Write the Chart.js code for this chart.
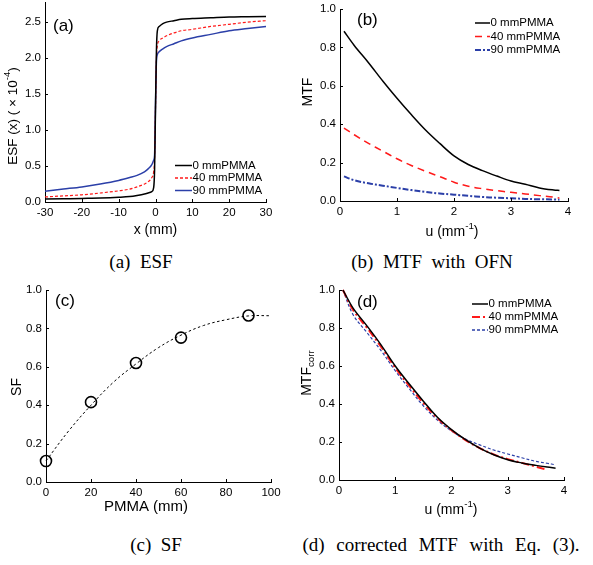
<!DOCTYPE html>
<html lang="en">
<head>
<meta charset="UTF-8">
<title>ESF / MTF / SF</title>
<style>
  body { margin: 0; background: #fff; }
  .page { position: relative; width: 593px; height: 565px; background: #fff; overflow: hidden; }
  .panel { position: absolute; }
  .cap {
    position: absolute;
    font-family: "Liberation Serif", "Times New Roman", serif;
    font-size: 19px;
    color: #000;
    white-space: pre;
    transform: translate(-50%, -50%);
  }
</style>
</head>
<body>
<div class="page">
  <canvas id="cA" class="panel" style="left:0;top:0" width="296" height="240"></canvas>
  <canvas id="cB" class="panel" style="left:296px;top:0" width="297" height="240"></canvas>
  <canvas id="cC" class="panel" style="left:0;top:280px" width="296" height="240"></canvas>
  <canvas id="cD" class="panel" style="left:296px;top:280px" width="297" height="240"></canvas>
  <div class="cap" style="left:141px;top:262px">(a)  ESF</div>
  <div class="cap" style="left:432px;top:262px">(b)  MTF  with  OFN</div>
  <div class="cap" style="left:156px;top:545px">(c)  SF</div>
  <div class="cap" style="left:441px;top:545px;word-spacing:7px">(d) corrected MTF with Eq. (3).</div>
</div>
<script src="https://cdn.jsdelivr.net/npm/chart.js"></script>
<script>
// (a) ESF, x in mm, values x 10^-4
const esfX  = [-30, -25, -20, -15, -10, -7, -5, -3, -2, -1, -0.5, -0.25, 0, 0.25, 0.5, 1, 2, 3, 5, 7, 10, 15, 20, 25, 30];
const esf0  = [0.04, 0.045, 0.05, 0.055, 0.065, 0.075, 0.09, 0.11, 0.125, 0.145, 0.2, 0.45, 1.3, 2.1, 2.38, 2.44, 2.48, 2.5, 2.52, 2.54, 2.55, 2.56, 2.57, 2.575, 2.58];
const esf40 = [0.07, 0.085, 0.1, 0.125, 0.155, 0.18, 0.21, 0.25, 0.28, 0.34, 0.42, 0.6, 1.3, 2.0, 2.17, 2.24, 2.28, 2.31, 2.35, 2.38, 2.4, 2.44, 2.47, 2.5, 2.52];
const esf90 = [0.15, 0.18, 0.21, 0.25, 0.3, 0.34, 0.37, 0.42, 0.46, 0.52, 0.58, 0.65, 1.35, 1.95, 2.05, 2.09, 2.13, 2.16, 2.2, 2.24, 2.28, 2.33, 2.38, 2.41, 2.44];

// (b) MTF with OFN
const mtfU  = [0.07, 0.25, 0.5, 0.75, 1, 1.25, 1.5, 1.75, 2, 2.25, 2.5, 2.75, 3, 3.25, 3.5, 3.75, 3.85];
const mtf0  = [0.884, 0.81, 0.72, 0.625, 0.535, 0.45, 0.37, 0.3, 0.235, 0.19, 0.158, 0.13, 0.104, 0.087, 0.068, 0.057, 0.055];
const mtf40 = [0.38, 0.345, 0.3, 0.26, 0.22, 0.185, 0.155, 0.127, 0.098, 0.077, 0.064, 0.054, 0.045, 0.037, 0.028, 0.02, 0.015];
const mtf90 = [0.128, 0.108, 0.092, 0.08, 0.068, 0.057, 0.047, 0.039, 0.033, 0.027, 0.021, 0.017, 0.014, 0.011, 0.009, 0.008, 0.007];

// (c) SF vs PMMA thickness
const sfPmma = [0, 20, 40, 60, 90];
const sfVal  = [0.109, 0.416, 0.62, 0.752, 0.867];
const sfFitX = [0, 10, 20, 30, 40, 50, 60, 70, 80, 90, 100];
const sfFitY = [0.11, 0.265, 0.4, 0.52, 0.615, 0.7, 0.765, 0.815, 0.845, 0.865, 0.866];

// (d) corrected MTF
const corrU  = [0.07, 0.25, 0.5, 0.75, 1, 1.25, 1.5, 1.75, 2, 2.25, 2.5, 2.75, 3, 3.25, 3.5, 3.7, 3.85];
const corr0  = [1.0, 0.905, 0.81, 0.71, 0.6, 0.505, 0.415, 0.33, 0.265, 0.212, 0.168, 0.133, 0.107, 0.09, 0.077, 0.068, 0.062];
const corr40 = [1.0, 0.895, 0.8, 0.7, 0.59, 0.495, 0.405, 0.325, 0.262, 0.21, 0.168, 0.135, 0.11, 0.09, 0.07, 0.053, null];
const corr90 = [1.0, 0.87, 0.775, 0.68, 0.575, 0.48, 0.39, 0.315, 0.258, 0.215, 0.185, 0.158, 0.137, 0.117, 0.098, 0.088, 0.08];

// tick labels
const ticksEsfX = [-30, -20, -10, 0, 10, 20, 30];
const ticksEsfY = [0, 0.5, 1, 1.5, 2, 2.5];
const ticksU    = [0, 1, 2, 3, 4];
const ticksUnit = [0, 0.2, 0.4, 0.6, 0.8, 1];
const ticksPmma = [0, 20, 40, 60, 80, 100];

const legendNames = ['0 mmPMMA', '40 mmPMMA', '90 mmPMMA'];

const FONT = '"Liberation Sans", Arial, sans-serif';
Chart.defaults.font.family = FONT;
Chart.defaults.font.size = 11;
Chart.defaults.color = '#000';

function pts(xs, ys) {
    return xs.map((x, i) => ({ x: x, y: ys[i] }));
}

// rich text: parts = [[text, 'n'|'sup'|'sub'], ...], centred on (x, y)
function drawRich(ctx, it) {
    const base = it.size || 14;
    ctx.save();
    ctx.translate(it.x, it.y);
    if (it.rot) ctx.rotate(it.rot);
    ctx.fillStyle = '#000';
    ctx.textBaseline = 'middle';
    ctx.textAlign = 'left';
    let total = 0;
    it.parts.forEach(p => {
        ctx.font = (p[1] === 'n' ? base : base * 0.7) + 'px ' + FONT;
        total += ctx.measureText(p[0]).width;
    });
    let x = it.align === 'left' ? 0 : -total / 2;
    it.parts.forEach(p => {
        const sz = p[1] === 'n' ? base : base * 0.7;
        ctx.font = sz + 'px ' + FONT;
        const dy = p[1] === 'sup' ? -base * 0.38 : p[1] === 'sub' ? base * 0.32 : 0;
        ctx.fillText(p[0], x, dy);
        x += ctx.measureText(p[0]).width;
    });
    ctx.restore();
}

// matlab-ish look: inward ticks, panel tag, inner legend, axis titles
const matlabPlugin = {
    id: 'matlab',
    afterDraw(chart, args, opts) {
        const ctx = chart.ctx;
        const xs = chart.scales.x, ys = chart.scales.y;
        const a = chart.chartArea;
        ctx.save();
        ctx.strokeStyle = '#000';
        ctx.lineWidth = 1;
        ctx.beginPath();
        xs.ticks.forEach(t => {
            const px = Math.round(xs.getPixelForValue(t.value)) + 0.5;
            ctx.moveTo(px, a.bottom);
            ctx.lineTo(px, a.bottom - 3);
        });
        ys.ticks.forEach(t => {
            const py = Math.round(ys.getPixelForValue(t.value)) + 0.5;
            ctx.moveTo(a.left, py);
            ctx.lineTo(a.left + 3, py);
        });
        ctx.stroke();
        ctx.restore();

        (opts.texts || []).forEach(it => drawRich(ctx, it));

        if (opts.legend) {
            const lg = opts.legend;
            ctx.save();
            ctx.font = lg.size + 'px ' + FONT;
            ctx.textBaseline = 'middle';
            ctx.fillStyle = '#000';
            lg.rows.forEach((y, i) => {
                const ds = chart.data.datasets[i];
                ctx.strokeStyle = ds.borderColor;
                ctx.lineWidth = Math.max(ds.borderWidth, 1.5);
                ctx.setLineDash(ds.borderDash || []);
                ctx.beginPath();
                ctx.moveTo(lg.x0, y);
                ctx.lineTo(lg.x1, y);
                ctx.stroke();
                ctx.fillText(legendNames[i], lg.x1 + 0.5, y);
            });
            ctx.restore();
        }
    }
};

function axes(xmin, xmax, xt, xdec, ymin, ymax, yt, ydec, yw, xh) {
    return {
        x: {
            type: 'linear', min: xmin, max: xmax,
            afterBuildTicks: s => { s.ticks = xt.map(v => ({ value: v })); },
            afterFit: s => { s.height = xh; s.paddingLeft = 0; s.paddingRight = 0; },
            grid: { display: false, drawTicks: false },
            border: { display: true, color: '#000', width: 1 },
            ticks: { padding: 4, autoSkip: false, maxRotation: 0, font: { size: 11.5 },
                     callback: v => v.toFixed(xdec) },
            title: { display: false }
        },
        y: {
            type: 'linear', min: ymin, max: ymax,
            afterBuildTicks: s => { s.ticks = yt.map(v => ({ value: v })); },
            afterFit: s => { s.width = yw; s.paddingTop = 0; s.paddingBottom = 0; },
            grid: { display: false, drawTicks: false },
            border: { display: true, color: '#000', width: 1 },
            ticks: { padding: 4, autoSkip: false, font: { size: 11.5 },
                     callback: v => v.toFixed(ydec) },
            title: { display: false }
        }
    };
}

function line(data, color, width, dash, smooth) {
    const ds = { data: data, borderColor: color, borderWidth: width, borderDash: dash,
                 pointRadius: 0, fill: false, clip: 3 };
    if (smooth) ds.tension = smooth; else ds.cubicInterpolationMode = 'monotone';
    return ds;
}

const BLUE = '#2b3fa8', RED = '#ff1a1a';

// (a) ESF
new Chart(document.getElementById('cA'), {
    type: 'line',
    data: { datasets: [
        line(pts(esfX, esf0), '#000', 1.5, []),
        line(pts(esfX, esf40), RED, 1.2, [3, 2]),
        line(pts(esfX, esf90), BLUE, 1.5, [])
    ] },
    options: {
        animation: false, responsive: false, events: [],
        layout: { padding: { left: 0, top: 2, right: 30, bottom: 0 } },
        scales: axes(-30, 30, ticksEsfX, 0, 0, 2.78, ticksEsfY, 1, 45, 38),
        plugins: {
            legend: { display: false }, tooltip: { enabled: false },
            matlab: {
                texts: [
                    { x: 53, y: 26, size: 17, align: 'left', parts: [['(a)', 'n']] },
                    { x: 13, y: 116, rot: -Math.PI / 2, size: 13.5, parts: [['ESF (x) ( \u00d7 10', 'n'], ['-4', 'sup'], [')', 'n']] },
                    { x: 155.5, y: 230, parts: [['x (mm)', 'n']] }
                ],
                legend: { x0: 175, x1: 192, size: 11.5, rows: [165.5, 178, 190.5] }
            }
        }
    },
    plugins: [matlabPlugin]
});

// (b) MTF with OFN
new Chart(document.getElementById('cB'), {
    type: 'line',
    data: { datasets: [
        line(pts(mtfU, mtf0), '#000', 1.5, [], 0.35),
        line(pts(mtfU, mtf40), RED, 1.5, [7, 5], 0.35),
        line(pts(mtfU, mtf90), BLUE, 2, [6, 2, 2, 2], 0.35)
    ] },
    options: {
        animation: false, responsive: false, events: [],
        layout: { padding: { left: 0, top: 9, right: 25, bottom: 0 } },
        scales: axes(0, 4, ticksU, 0, 0, 1, ticksUnit, 1, 44, 39),
        plugins: {
            legend: { display: false }, tooltip: { enabled: false },
            matlab: {
                texts: [
                    { x: 61, y: 20, size: 17, align: 'left', parts: [['(b)', 'n']] },
                    { x: 12, y: 92, rot: -Math.PI / 2, parts: [['MTF', 'n']] },
                    { x: 156, y: 232, parts: [['u (mm', 'n'], ['-1', 'sup'], [')', 'n']] }
                ],
                legend: { x0: 179, x1: 194, size: 11.5, rows: [23, 36.5, 50] }
            }
        }
    },
    plugins: [matlabPlugin]
});

// (c) SF
new Chart(document.getElementById('cC'), {
    type: 'line',
    data: { datasets: [
        { data: pts(sfFitX, sfFitY), borderColor: '#000', borderWidth: 1, borderDash: [2.5, 2.5],
          pointRadius: 0, fill: false, tension: 0.4, clip: 3 },
        { data: pts(sfPmma, sfVal), showLine: false, pointStyle: 'circle', pointRadius: 5.5,
          pointBorderWidth: 1.6, pointBorderColor: '#000', pointBackgroundColor: 'rgba(0,0,0,0)', clip: false }
    ] },
    options: {
        animation: false, responsive: false, events: [],
        layout: { padding: { left: 0, top: 10, right: 25, bottom: 0 } },
        scales: axes(0, 100, ticksPmma, 0, 0, 1, ticksUnit, 1, 46, 38),
        plugins: {
            legend: { display: false }, tooltip: { enabled: false },
            matlab: {
                texts: [
                    { x: 55, y: 21, size: 17, align: 'left', parts: [['(c)', 'n']] },
                    { x: 17, y: 107, rot: -Math.PI / 2, parts: [['SF', 'n']] },
                    { x: 146, y: 227, size: 15, parts: [['PMMA (mm)', 'n']] }
                ]
            }
        }
    },
    plugins: [matlabPlugin]
});

// (d) corrected MTF
new Chart(document.getElementById('cD'), {
    type: 'line',
    data: { datasets: [
        line(pts(corrU, corr0), '#000', 1.5, [], 0.35),
        line(pts(corrU, corr40), RED, 2, [8, 3, 2, 3], 0.35),
        line(pts(corrU, corr90), BLUE, 1.2, [3, 2], 0.35)
    ] },
    options: {
        animation: false, responsive: false, events: [],
        layout: { padding: { left: 0, top: 10, right: 29, bottom: 0 } },
        scales: axes(0, 4, ticksU, 0, 0, 1, ticksUnit, 1, 43, 40),
        plugins: {
            legend: { display: false }, tooltip: { enabled: false },
            matlab: {
                texts: [
                    { x: 61, y: 22, size: 17, align: 'left', parts: [['(d)', 'n']] },
                    { x: 11, y: 93, rot: -Math.PI / 2, parts: [['MTF', 'n'], ['corr', 'sub']] },
                    { x: 155, y: 230, parts: [['u (mm', 'n'], ['-1', 'sup'], [')', 'n']] }
                ],
                legend: { x0: 176, x1: 192, size: 11.5, rows: [24, 37, 50] }
            }
        }
    },
    plugins: [matlabPlugin]
});
</script>
</body>
</html>
